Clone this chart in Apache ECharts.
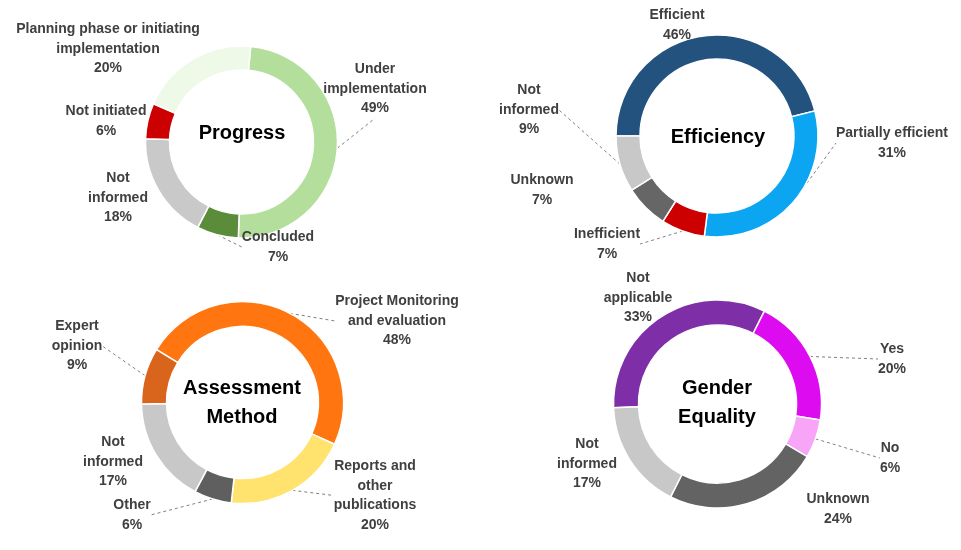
<!DOCTYPE html>
<html>
<head>
<meta charset="utf-8">
<script src="https://cdn.jsdelivr.net/npm/echarts@6/dist/echarts.min.js"></script>
<style>html,body{margin:0;padding:0;background:#fff}#c{width:961px;height:550px}</style>
</head>
<body>
<div id="c"></div>
<script>
// ---- Data ----
const progressNames = ['Under\nimplementation', 'Concluded', 'Not\ninformed', 'Not initiated', 'Planning phase or initiating\nimplementation'];
const progressValues = [49, 7, 18, 6, 20];

const efficiencyNames = ['Efficient', 'Partially efficient', 'Inefficient', 'Unknown', 'Not\ninformed'];
const efficiencyValues = [46, 31, 7, 7, 9];

const assessmentNames = ['Project Monitoring\nand evaluation', 'Reports and\nother\npublications', 'Other', 'Not\ninformed', 'Expert\nopinion'];
const assessmentValues = [48, 20, 6, 17, 9];

const genderNames = ['Not\napplicable', 'Yes', 'No', 'Unknown', 'Not\ninformed'];
const genderValues = [33, 20, 6, 24, 17];

const centerTitles = ['Progress', 'Efficiency', 'Assessment\nMethod', 'Gender\nEquality'];

// ---- Styles / layout ----
const progressColors = ['#b4de9c', '#5b8c3a', '#c9c9c9', '#cc0000', '#eefae7'];
const efficiencyColors = ['#23527f', '#0ba5f2', '#cc0000', '#666666', '#c8c8c8'];
const assessmentColors = ['#ff7610', '#ffe36e', '#5f5f5f', '#c8c8c8', '#d9651c'];
const genderColors = ['#7e2fa8', '#dd0cf0', '#f8a4f7', '#636363', '#c8c8c8'];

const charts = [
  {names: progressNames, values: progressValues, colors: progressColors,
   center: [241.5, 142], radius: [72, 96], startAngle: 84.5,
   labelAt: [[375, 89], [278, 247], [118, 198], [106, 121], [108, 49]],
   leader: [true, true, false, false, false], titleAt: [242, 133]},
  {names: efficiencyNames, values: efficiencyValues, colors: efficiencyColors,
   center: [717, 136], radius: [77, 101], startAngle: 180,
   labelAt: [[677, 25], [892, 143], [607, 244], [542, 190], [529, 110]],
   leader: [false, true, true, false, true], titleAt: [718, 137]},
  {names: assessmentNames, values: assessmentValues, colors: assessmentColors,
   center: [242.5, 402.5], radius: [76, 101], startAngle: 148.4,
   labelAt: [[397, 321], [375, 495.5], [132, 515], [113, 462], [77, 346]],
   leader: [true, true, true, false, true], titleAt: [242, 402.5]},
  {names: genderNames, values: genderValues, colors: genderColors,
   center: [717.5, 404], radius: [79, 104], startAngle: 182,
   labelAt: [[638, 298], [892, 359], [890, 458], [838, 509], [587, 464]],
   leader: [false, true, true, false, false], titleAt: [717, 402.5]}
];

const labelFont = 'Liberation Sans';

const series = charts.map(function (ch) {
  return {
    type: 'pie',
    center: ch.center,
    radius: ch.radius,
    startAngle: ch.startAngle,
    clockwise: true,
    avoidLabelOverlap: false,
    silent: true,
    animation: false,
    itemStyle: {borderColor: '#ffffff', borderWidth: 1.5},
    label: {
      show: true,
      position: 'outside',
      formatter: '{b}\n{c}%',
      color: '#404040',
      fontFamily: labelFont,
      fontWeight: 'bold',
      fontSize: 14,
      lineHeight: 19.5,
      align: 'center'
    },
    labelLine: {show: true, length: 10, length2: 0, lineStyle: {color: '#808080', width: 1, type: [3, 3]}},
    labelLayout: function (p) {
      const pos = ch.labelAt[p.dataIndex];
      return {x: pos[0], y: pos[1], align: 'center', verticalAlign: 'middle'};
    },
    data: ch.names.map(function (n, i) {
      return {
        name: n, value: ch.values[i],
        itemStyle: {color: ch.colors[i]},
        labelLine: {show: ch.leader[i]}
      };
    })
  };
});

const graphics = charts.map(function (ch, i) {
  return {
    type: 'text', x: ch.titleAt[0], y: ch.titleAt[1], silent: true,
    style: {text: centerTitles[i], fill: '#000000', font: 'bold 20px "Liberation Sans"',
      lineHeight: 29, align: 'center', verticalAlign: 'middle'}
  };
});

const chart = echarts.init(document.getElementById('c'), null, {renderer: 'canvas'});
chart.setOption({
  backgroundColor: '#ffffff',
  animation: false,
  series: series,
  graphic: graphics
});
</script>
</body>
</html>
